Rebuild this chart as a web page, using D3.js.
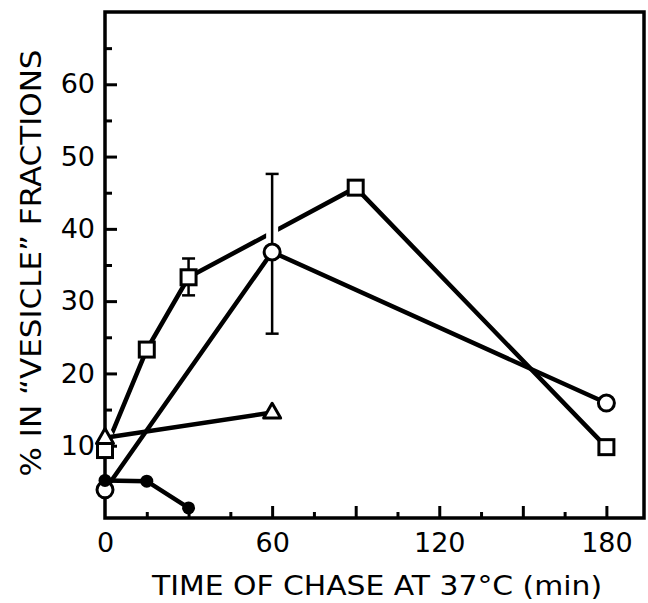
<!DOCTYPE html>
<html><head><meta charset="utf-8">
<script src="https://cdn.jsdelivr.net/npm/d3@7"></script>
<style>body{margin:0;background:#fff}svg{display:block}</style>
</head><body>
<svg id="chart" width="648" height="603"></svg>
<script>
// ---- data ----
const squareTimes = [0, 15, 30, 90, 180];
const squareValues = [9.4, 23.3, 33.3, 45.7, 9.8];
const squareErr = [{t: 30, lo: 30.8, hi: 35.9}];
const circleTimes = [0, 60, 180];
const circleValues = [3.9, 36.8, 15.9];
const circleErr = [{t: 60, lo: 25.5, hi: 47.6}];
const triangleTimes = [0, 60];
const triangleValues = [11.1, 14.6];
const dotTimes = [0, 15, 30];
const dotValues = [5.2, 5.1, 1.4];
const xTickLabels = [0, 60, 120, 180];
const xMajorTicks = [30, 60, 90, 120, 150, 180];
const xMinorTicks = [15, 45, 75, 105, 135, 165];
const yTickLabels = [10, 20, 30, 40, 50, 60];
const yMinorTicks = [5, 15, 25, 35, 45, 55, 65];

const svg = d3.select("#chart");
const W = 648, H = 603;
const m = {left: 105, right: 4, top: 12, bottom: 85};
const x = d3.scaleLinear().domain([0, 193.5]).range([m.left, W - m.right]);
const y = d3.scaleLinear().domain([0, 70]).range([H - m.bottom, m.top]);
const font = "DejaVu Sans, sans-serif";

const zip = (ts, vs) => ts.map((t, i) => ({t, v: vs[i]}));
const sq = zip(squareTimes, squareValues);
const ci = zip(circleTimes, circleValues);
const tr = zip(triangleTimes, triangleValues);
const dt = zip(dotTimes, dotValues);
const line = d3.line().x(d => x(d.t)).y(d => y(d.v));

// series lines
const gl = svg.append("g").attr("fill", "none").attr("stroke", "#000").attr("stroke-width", 4.5);
gl.append("path").attr("d", line(sq));
gl.append("path").attr("d", line(ci));
gl.append("path").attr("d", line(dt));

// white halo around triangle (breaks crossing square line)
const triSize = 17;
const triPath = d => {
  const cx = x(d.t), cy = y(d.v), h = triSize * 0.87;
  return `M${cx},${cy - h * 0.62}L${cx + triSize / 2},${cy + h * 0.38}L${cx - triSize / 2},${cy + h * 0.38}Z`;
};
svg.append("path").attr("d", triPath(tr[0])).attr("fill", "#fff").attr("stroke", "#fff").attr("stroke-width", 9);

// white gap where square line crosses circle error bar
circleErr.forEach(e => {
  const i = d3.bisector(d => d.t).left(sq, e.t);
  const a = sq[i - 1], b = sq[i];
  const vv = a.v + (b.v - a.v) * (e.t - a.t) / (b.t - a.t);
  svg.append("line").attr("x1", x(e.t)).attr("x2", x(e.t))
    .attr("y1", y(vv) - 9).attr("y2", y(vv) + 9)
    .attr("stroke", "#fff").attr("stroke-width", 12);
});

// frame
svg.append("rect").attr("x", m.left).attr("y", m.top)
  .attr("width", W - m.right - m.left).attr("height", H - m.bottom - m.top)
  .attr("fill", "none").attr("stroke", "#000").attr("stroke-width", 3.5);

// axes ticks
const styleAxis = g => { g.select(".domain").remove(); g.selectAll("line").attr("stroke", "#000").attr("stroke-width", 3); };
svg.append("g").attr("transform", `translate(0,${y(0)})`)
  .call(d3.axisBottom(x).tickValues(xMajorTicks).tickSize(-12).tickFormat("")).call(styleAxis);
svg.append("g").attr("transform", `translate(0,${y(0)})`)
  .call(d3.axisBottom(x).tickValues(xMinorTicks).tickSize(-6).tickFormat("")).call(styleAxis);
svg.append("g").attr("transform", `translate(${x(0)},0)`)
  .call(d3.axisLeft(y).tickValues(yTickLabels).tickSize(-12).tickFormat("")).call(styleAxis);
svg.append("g").attr("transform", `translate(${x(0)},0)`)
  .call(d3.axisLeft(y).tickValues(yMinorTicks).tickSize(-7).tickFormat("")).call(styleAxis);

// tick labels
const xl = svg.append("g").attr("transform", `translate(0,${y(0)})`)
  .call(d3.axisBottom(x).tickValues(xTickLabels).tickSize(0).tickPadding(15).tickFormat(d3.format("d")));
xl.select(".domain").remove();
xl.selectAll("text").attr("font-family", font).attr("font-size", 27).attr("fill", "#000");
const yl = svg.append("g").attr("transform", `translate(${x(0)},0)`)
  .call(d3.axisLeft(y).tickValues(yTickLabels).tickSize(0).tickPadding(10).tickFormat(d3.format("d")));
yl.select(".domain").remove();
yl.selectAll("text").attr("font-family", font).attr("font-size", 27).attr("fill", "#000");

// axis titles
svg.append("text").attr("x", 377).attr("y", 595).attr("text-anchor", "middle")
  .attr("font-family", font).attr("font-size", 27).attr("textLength", 450).attr("lengthAdjust", "spacingAndGlyphs")
  .text("TIME OF CHASE AT 37°C  (min)");
svg.append("text").attr("transform", "translate(41,263) rotate(-90)").attr("text-anchor", "middle")
  .attr("font-family", font).attr("font-size", 29).attr("textLength", 427).attr("lengthAdjust", "spacingAndGlyphs")
  .text("% IN \u201CVESICLE\u201D FRACTIONS");

// triangle line on top of halo
svg.append("path").attr("d", line(tr)).attr("fill", "none").attr("stroke", "#000").attr("stroke-width", 4.5);

// error bars
const drawErr = (errs) => errs.forEach(e => {
  const g = svg.append("g").attr("stroke", "#000").attr("stroke-width", 2.5);
  g.append("line").attr("x1", x(e.t)).attr("x2", x(e.t)).attr("y1", y(e.lo)).attr("y2", y(e.hi));
  g.append("line").attr("x1", x(e.t) - 6.5).attr("x2", x(e.t) + 6.5).attr("y1", y(e.lo)).attr("y2", y(e.lo));
  g.append("line").attr("x1", x(e.t) - 6.5).attr("x2", x(e.t) + 6.5).attr("y1", y(e.hi)).attr("y2", y(e.hi));
});
drawErr(squareErr);
drawErr(circleErr);

// markers
svg.append("g").selectAll("circle").data(ci).join("circle")
  .attr("cx", d => x(d.t)).attr("cy", d => y(d.v)).attr("r", 8)
  .attr("fill", "#fff").attr("stroke", "#000").attr("stroke-width", 3);
svg.append("g").selectAll("rect").data(sq).join("rect")
  .attr("x", d => x(d.t) - 7.5).attr("y", d => y(d.v) - 7.5).attr("width", 15).attr("height", 15)
  .attr("fill", "#fff").attr("stroke", "#000").attr("stroke-width", 3);
svg.append("g").selectAll("path").data(tr).join("path")
  .attr("d", triPath).attr("fill", "#fff").attr("stroke", "#000").attr("stroke-width", 3).attr("stroke-linejoin", "round");
svg.append("g").selectAll("circle").data(dt).join("circle")
  .attr("cx", d => x(d.t)).attr("cy", d => y(d.v)).attr("r", 6.5)
  .attr("fill", "#000");
</script>
</body></html>
